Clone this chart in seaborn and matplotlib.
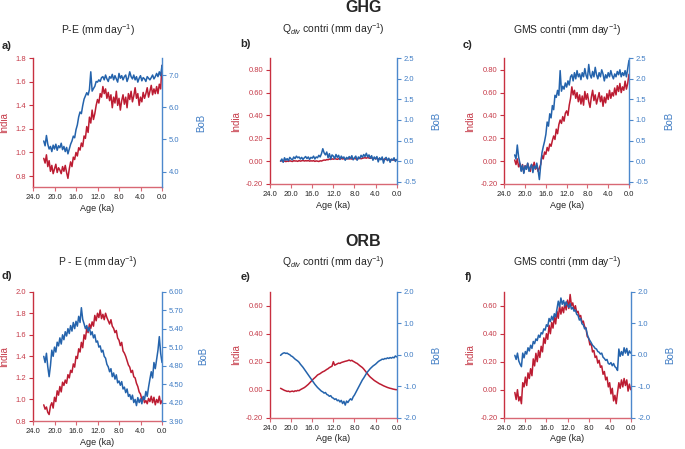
import matplotlib
matplotlib.use("Agg")
import matplotlib.pyplot as plt
import matplotlib.ticker as mticker
import numpy as np
import pandas as pd
import seaborn as sns

# age axis: 22 ka to present, every 250 yr
age = np.round(np.arange(22.0, -0.001, -0.25), 2)

# ---- GHG ----
ghg_pe_india = [0.95, 0.91, 0.98, 0.88, 0.93, 0.84, 0.89, 0.82, 0.86, 0.90, 0.83, 0.87,
                0.85, 0.82, 0.88, 0.84, 0.89, 0.83, 0.78, 0.86, 0.92, 0.88, 0.96, 0.94,
                1.00, 0.97, 1.04, 1.02, 1.08, 1.05, 1.14, 1.12, 1.22, 1.17, 1.30, 1.25,
                1.36, 1.28, 1.33, 1.40, 1.45, 1.42, 1.50, 1.47, 1.56, 1.50, 1.54, 1.46,
                1.51, 1.44, 1.49, 1.38, 1.47, 1.42, 1.52, 1.40, 1.46, 1.36, 1.44, 1.49,
                1.41, 1.47, 1.38, 1.50, 1.45, 1.52, 1.43, 1.48, 1.55, 1.46, 1.50, 1.40,
                1.47, 1.43, 1.51, 1.46, 1.50, 1.55, 1.47, 1.52, 1.57, 1.49, 1.54, 1.50,
                1.56, 1.50, 1.58, 1.54, 1.74]
ghg_pe_bob = [4.95, 4.80, 5.12, 4.85, 4.70, 4.78, 4.62, 4.82, 4.70, 4.85, 4.66, 4.80,
              4.74, 4.88, 4.68, 4.78, 4.62, 4.75, 4.55, 4.70, 4.85, 4.95, 5.10, 5.05,
              5.30, 5.45, 5.70, 5.85, 5.80, 6.05, 6.25, 6.35, 6.45, 6.38, 6.55, 7.10,
              6.50, 6.58, 6.65, 6.80, 6.78, 6.85, 6.80, 6.92, 6.95, 6.85, 7.00, 6.88,
              6.80, 6.95, 6.90, 7.02, 6.85, 6.98, 6.88, 6.78, 7.05, 6.90, 6.98, 6.85,
              6.95, 7.00, 6.80, 6.92, 7.10, 6.95, 6.88, 7.00, 6.85, 6.95, 6.78, 6.90,
              6.98, 6.82, 6.92, 6.88, 6.80, 6.95, 6.90, 6.85, 6.92, 7.00, 6.88, 6.95,
              7.05, 6.95, 7.10, 6.98, 7.30]
ghg_qdiv_india = [0.000, 0.004, -0.003, 0.002, -0.004, 0.001, -0.002, 0.003, 0.000, -0.003,
                  0.004, 0.001, 0.002, -0.002, 0.005, 0.000, 0.003, 0.006, 0.001, 0.004,
                  0.002, 0.005, 0.000, 0.003, 0.001, 0.004, -0.002, 0.002, 0.000, -0.003,
                  0.003, 0.001, 0.006, 0.010, 0.008, 0.014, 0.012, 0.018, 0.015, 0.020,
                  0.017, 0.022, 0.019, 0.016, 0.021, 0.018, 0.024, 0.019, 0.022, 0.017,
                  0.020, 0.025, 0.019, 0.023, 0.018, 0.021, 0.024, 0.020, 0.017, 0.022,
                  0.026, 0.021, 0.025, 0.028, 0.030, 0.026, 0.032, 0.027, 0.025, 0.029,
                  0.022, 0.026, 0.020, 0.024, 0.018, 0.021, 0.017, 0.020, 0.014, 0.018,
                  0.015, 0.011, 0.016, 0.012, 0.010, 0.014, 0.008, 0.011, 0.012]
ghg_qdiv_bob = [0.00, 0.05, -0.03, 0.08, 0.02, 0.06, 0.01, 0.09, 0.05, 0.03, 0.10, 0.06,
                0.12, 0.08, 0.10, 0.05, 0.09, 0.04, 0.08, 0.11, 0.06, 0.10, 0.04, 0.09,
                0.07, 0.12, 0.05, 0.10, 0.08, 0.14, 0.10, 0.18, 0.30, 0.20, 0.15, 0.22,
                0.08, 0.18, 0.05, 0.15, 0.12, 0.06, 0.16, 0.09, 0.14, 0.04, 0.12, 0.07,
                0.10, 0.02, 0.09, 0.05, 0.11, 0.06, 0.13, 0.03, 0.08, 0.12, 0.02, 0.10,
                0.06, 0.14, 0.09, 0.16, 0.11, 0.19, 0.10, 0.15, 0.07, 0.13, 0.02, 0.10,
                0.05, 0.11, -0.02, 0.08, 0.03, 0.10, -0.05, 0.06, 0.09, 0.01, 0.07, -0.03,
                0.05, 0.02, 0.08, -0.01, 0.04]
ghg_gms_india = [0.01, -0.03, 0.02, -0.05, -0.02, -0.08, -0.03, -0.10, -0.04, -0.07, -0.02, -0.06,
                 -0.09, -0.03, -0.06, -0.01, -0.07, -0.04, -0.09, -0.06, -0.03, 0.05, 0.02, 0.08,
                 0.06, 0.12, 0.09, 0.15, 0.13, 0.18, 0.22, 0.19, 0.28, 0.24, 0.32, 0.36,
                 0.33, 0.39, 0.35, 0.42, 0.44, 0.40, 0.49, 0.55, 0.65, 0.58, 0.62, 0.55,
                 0.60, 0.52, 0.58, 0.50, 0.57, 0.49, 0.61, 0.54, 0.59, 0.52, 0.47, 0.56,
                 0.62, 0.53, 0.58, 0.50, 0.55, 0.60, 0.52, 0.57, 0.48, 0.56, 0.51, 0.59,
                 0.54, 0.62, 0.55, 0.60, 0.57, 0.64, 0.58, 0.66, 0.61, 0.68, 0.60, 0.65,
                 0.62, 0.70, 0.63, 0.68, 0.76]
ghg_gms_bob = [0.15, 0.05, 0.39, 0.10, -0.05, -0.25, -0.10, -0.30, -0.12, -0.20, -0.05, -0.25,
               -0.15, -0.08, -0.28, -0.12, -0.18, -0.05, -0.22, -0.45, -0.10, 0.20, 0.35, 0.48,
               0.65, 0.95, 0.85, 1.15, 1.05, 1.35, 1.25, 1.60, 1.55, 1.72, 1.60, 2.20,
               1.70, 1.82, 1.75, 1.90, 1.80, 1.95, 1.85, 2.05, 2.10, 1.95, 2.15, 2.00,
               2.20, 2.05, 2.12, 1.98, 2.15, 2.05, 2.25, 2.08, 2.00, 2.35, 2.10, 2.02,
               2.18, 2.05, 2.28, 2.10, 2.00, 2.15, 2.05, 2.22, 2.12, 1.95, 2.10, 2.02,
               2.15, 2.05, 2.20, 2.08, 2.00, 2.12, 2.05, 2.18, 2.10, 2.22, 2.05, 2.15,
               2.08, 2.20, 2.05, 2.25, 2.45]

# ---- ORB ----
orb_pe_india = [0.95, 0.91, 0.93, 0.88, 0.86, 0.94, 0.97, 0.92, 1.02, 0.98, 1.08, 1.04,
                1.12, 1.07, 1.16, 1.13, 1.18, 1.15, 1.23, 1.20, 1.27, 1.25, 1.33, 1.30,
                1.40, 1.38, 1.47, 1.44, 1.53, 1.48, 1.60, 1.56, 1.66, 1.62, 1.70, 1.66,
                1.72, 1.68, 1.78, 1.73, 1.80, 1.76, 1.83, 1.75, 1.79, 1.74, 1.80, 1.76,
                1.73, 1.70, 1.74, 1.68, 1.66, 1.62, 1.64, 1.57, 1.55, 1.50, 1.53, 1.45,
                1.43, 1.40, 1.36, 1.32, 1.30, 1.25, 1.27, 1.21, 1.20, 1.15, 1.12, 1.07,
                1.05, 1.00, 1.02, 0.97, 0.99, 0.96, 1.01, 0.98, 1.03, 0.97, 1.02, 0.95,
                1.00, 0.97, 1.03, 0.96, 0.99]
orb_pe_bob = [4.95, 4.85, 5.00, 4.78, 4.62, 4.80, 5.05, 4.95, 5.10, 5.02, 5.18, 5.12,
              5.25, 5.15, 5.30, 5.22, 5.35, 5.28, 5.40, 5.32, 5.45, 5.36, 5.50, 5.40,
              5.52, 5.44, 5.60, 5.50, 5.74, 5.55, 5.48, 5.40, 5.45, 5.36, 5.42, 5.30,
              5.35, 5.25, 5.30, 5.18, 5.20, 5.10, 5.12, 5.02, 5.05, 4.95, 4.92, 4.82,
              4.78, 4.70, 4.75, 4.62, 4.68, 4.58, 4.65, 4.52, 4.55, 4.48, 4.54, 4.42,
              4.45, 4.36, 4.42, 4.30, 4.33, 4.25, 4.32, 4.20, 4.25, 4.15, 4.28, 4.20,
              4.26, 4.18, 4.30, 4.25, 4.38, 4.30, 4.45, 4.58, 4.70, 4.60, 4.85, 4.75,
              4.90, 5.05, 5.27, 5.00, 4.85]
orb_qdiv_india = [0.010, 0.005, 0.000, -0.005, -0.008, -0.012, -0.010, -0.015, -0.012, -0.010,
                  -0.014, -0.008, -0.010, -0.005, -0.007, 0.000, 0.005, 0.010, 0.015, 0.022,
                  0.030, 0.038, 0.048, 0.058, 0.068, 0.078, 0.086, 0.095, 0.105, 0.110,
                  0.115, 0.122, 0.128, 0.132, 0.138, 0.145, 0.150, 0.158, 0.163, 0.168,
                  0.200, 0.175, 0.180, 0.185, 0.190, 0.188, 0.194, 0.197, 0.200, 0.203,
                  0.205, 0.208, 0.212, 0.206, 0.210, 0.203, 0.198, 0.192, 0.188, 0.180,
                  0.172, 0.165, 0.158, 0.148, 0.136, 0.124, 0.112, 0.100, 0.090, 0.082,
                  0.074, 0.066, 0.060, 0.054, 0.048, 0.042, 0.038, 0.033, 0.028, 0.024,
                  0.020, 0.016, 0.013, 0.010, 0.008, 0.005, 0.003, 0.001, 0.000]
orb_qdiv_bob = [-0.02, 0.02, 0.05, 0.06, 0.04, 0.05, 0.02, 0.00, -0.04, -0.06, -0.10, -0.14,
                -0.17, -0.20, -0.24, -0.30, -0.35, -0.40, -0.46, -0.52, -0.58, -0.64, -0.70, -0.76,
                -0.82, -0.88, -0.94, -0.99, -1.04, -1.08, -1.12, -1.16, -1.18, -1.22, -1.20, -1.26,
                -1.28, -1.32, -1.30, -1.36, -1.38, -1.42, -1.40, -1.46, -1.44, -1.50, -1.45, -1.55,
                -1.48, -1.60, -1.47, -1.52, -1.45, -1.40, -1.44, -1.34, -1.28, -1.20, -1.12, -1.04,
                -0.96, -0.88, -0.80, -0.74, -0.67, -0.60, -0.54, -0.49, -0.44, -0.40, -0.36, -0.33,
                -0.30, -0.26, -0.22, -0.19, -0.17, -0.14, -0.15, -0.12, -0.13, -0.10, -0.12, -0.09,
                -0.11, -0.08, -0.10, -0.04, -0.07]
orb_gms_india = [-0.02, -0.07, 0.00, -0.08, -0.05, -0.10, 0.05, 0.02, 0.09, 0.03, 0.12, 0.08,
                 0.15, 0.10, 0.22, 0.17, 0.26, 0.20, 0.28, 0.23, 0.31, 0.27, 0.37, 0.33,
                 0.40, 0.36, 0.46, 0.40, 0.48, 0.44, 0.52, 0.47, 0.56, 0.51, 0.60, 0.54,
                 0.59, 0.55, 0.62, 0.57, 0.64, 0.58, 0.68, 0.60, 0.62, 0.57, 0.60, 0.55,
                 0.56, 0.52, 0.53, 0.48, 0.49, 0.45, 0.44, 0.38, 0.37, 0.32, 0.33, 0.27,
                 0.28, 0.23, 0.24, 0.19, 0.21, 0.16, 0.17, 0.11, 0.13, 0.07, 0.09, 0.02,
                 0.05, -0.03, 0.01, -0.08, -0.04, -0.10, -0.02, 0.05, 0.01, 0.07, 0.02, 0.08,
                 0.03, 0.07, -0.01, 0.04, 0.00]
orb_gms_bob = [-0.02, -0.15, 0.05, -0.20, -0.30, -0.38, 0.05, -0.10, 0.10, 0.02, 0.22, 0.12,
               0.30, 0.20, 0.42, 0.35, 0.50, 0.45, 0.62, 0.55, 0.70, 0.66, 0.82, 0.78,
               0.95, 0.90, 1.15, 1.05, 1.22, 1.10, 1.30, 1.20, 1.45, 1.70, 1.52, 1.80,
               1.60, 1.72, 1.55, 1.68, 1.58, 1.50, 1.62, 1.45, 1.50, 1.38, 1.42, 1.28,
               1.25, 1.10, 1.15, 0.98, 0.95, 0.82, 0.85, 0.65, 0.52, 0.45, 0.38, 0.30,
               0.26, 0.20, 0.18, 0.10, 0.08, 0.02, 0.05, -0.08, -0.12, -0.18, -0.15, -0.28,
               -0.30, -0.25, -0.35, -0.28, -0.38, -0.42, -0.50, 0.18, -0.05, 0.10, -0.02, 0.22,
               0.05, 0.20, -0.02, 0.12, 0.05]

age_ticks = [24, 20, 16, 12, 8, 4, 0]

sns.set_style("ticks")
plt.rcParams['font.family'] = ['Liberation Sans', 'DejaVu Sans']
plt.rcParams['mathtext.fontset'] = 'custom'
plt.rcParams['mathtext.rm'] = 'Liberation Sans'
plt.rcParams['mathtext.it'] = 'Liberation Sans:italic'

W, H = 685, 449
fig = plt.figure(figsize=(6.85, 4.49), dpi=100)

RED = '#BC1C32'
BLUE = '#2463AC'
RED_SP = '#C83040'
BOT_SP = '#D86874'
BLUE_SP = '#4C88CC'
RED_TXT = '#C63A48'
BLUE_TXT = '#3F7CC4'


def fx(px):
    return px / W


def fy(py):
    return 1 - py / H


def panel(box, india, bob, lylim, lticks, lfmt, rylim, rticks, rfmt,
          title, tpos, letter, lpos, india_px, bob_px):
    x0, y0, x1, y1 = box
    ax = fig.add_axes([fx(x0), fy(y1), (x1 - x0) / W, (y1 - y0) / H])
    df = pd.DataFrame({'age': age, 'India': india, 'BoB': bob})
    sns.lineplot(data=df, x='age', y='India', ax=ax, color=RED, linewidth=1.1)
    ax2 = ax.twinx()
    sns.lineplot(data=df, x='age', y='BoB', ax=ax2, color=BLUE, linewidth=1.1)

    ax.set_xlim(24, 0)
    ax.set_xticks(age_ticks)
    ax.xaxis.set_major_formatter(mticker.FormatStrFormatter('%.1f'))
    ax.set_ylim(*lylim)
    ax.set_yticks(lticks)
    ax.yaxis.set_major_formatter(mticker.FormatStrFormatter(lfmt))
    ax2.set_ylim(*rylim)
    ax2.set_yticks(rticks)
    ax2.yaxis.set_major_formatter(mticker.FormatStrFormatter(rfmt))

    for s in ['top', 'right']:
        ax.spines[s].set_visible(False)
    for s in ['top', 'left', 'bottom']:
        ax2.spines[s].set_visible(False)
    ax.spines['left'].set_color(RED_SP)
    ax.spines['bottom'].set_color(BOT_SP)
    ax2.spines['right'].set_color(BLUE_SP)
    for sp in [ax.spines['left'], ax.spines['bottom'], ax2.spines['right']]:
        sp.set_linewidth(1.0)

    ax.tick_params(axis='y', colors=RED_SP, labelcolor=RED_TXT, labelsize=5.5,
                   length=3, width=0.8, pad=2)
    ax.tick_params(axis='x', colors=BOT_SP, labelcolor='#222222', labelsize=5.5,
                   length=3, width=0.8, pad=2)
    ax2.tick_params(axis='y', colors=BLUE_SP, labelcolor=BLUE_TXT, labelsize=5.5,
                    length=3, width=0.8, pad=2)

    ax.set_xlabel('Age (ka)', fontsize=6.5, color='#222222', labelpad=2)
    ax.set_ylabel('India', fontsize=7, color=RED_TXT)
    ax2.set_ylabel('BoB', fontsize=7, color=BLUE_TXT)
    ax.yaxis.set_label_coords((india_px - x0) / (x1 - x0), 0.5)
    ax2.yaxis.set_label_coords((bob_px - x0) / (x1 - x0), 0.5)

    fig.text(fx(tpos[0]), fy(tpos[1]), title, fontsize=7.5, ha='center', va='center')
    fig.text(fx(lpos[0]), fy(lpos[1]), letter, fontsize=8, fontweight='bold',
             ha='left', va='center')


# top row: GHG
panel((33, 58.3, 162, 187.3), ghg_pe_india, ghg_pe_bob,
      (0.704, 1.80), [0.8, 1.0, 1.2, 1.4, 1.6, 1.8], '%.1f',
      (3.51, 7.52), [4.0, 5.0, 6.0, 7.0], '%.1f',
      'P-E (mm day$^{-1}$)', (98, 30), 'a)', (2, 46), 9, 196)
panel((270, 58.3, 396.7, 184), ghg_qdiv_india, ghg_qdiv_bob,
      (-0.20, 0.90), [-0.2, 0.0, 0.2, 0.4, 0.6, 0.8], '%.2f',
      (-0.558, 2.5), [-0.5, 0.0, 0.5, 1.0, 1.5, 2.0, 2.5], '%.1f',
      'Q$_{div}$ contri (mm day$^{-1}$)', (333.5, 29), 'b)', (240, 44), 241, 431)
panel((504.3, 58.3, 629, 184), ghg_gms_india, ghg_gms_bob,
      (-0.20, 0.90), [-0.2, 0.0, 0.2, 0.4, 0.6, 0.8], '%.2f',
      (-0.558, 2.5), [-0.5, 0.0, 0.5, 1.0, 1.5, 2.0, 2.5], '%.1f',
      'GMS contri (mm day$^{-1}$)', (567, 30), 'c)', (463, 45), 475, 664)

# bottom row: ORB
panel((33, 291.7, 162, 421), orb_pe_india, orb_pe_bob,
      (0.8, 2.0), [0.8, 1.0, 1.2, 1.4, 1.6, 1.8, 2.0], '%.1f',
      (3.9, 6.0), [3.9, 4.2, 4.5, 4.8, 5.1, 5.4, 5.7, 6.0], '%.2f',
      'P - E (mm day$^{-1}$)', (97.5, 262), 'd)', (2, 276), 9, 198)
panel((270, 291.7, 396.7, 417.7), orb_qdiv_india, orb_qdiv_bob,
      (-0.20, 0.70), [-0.2, 0.0, 0.2, 0.4, 0.6], '%.2f',
      (-2.0, 2.0), [-2.0, -1.0, 0.0, 1.0, 2.0], '%.1f',
      'Q$_{div}$ contri (mm day$^{-1}$)', (333.5, 262), 'e)', (241, 277.5), 241, 431)
panel((504.3, 291.7, 630.7, 417.7), orb_gms_india, orb_gms_bob,
      (-0.20, 0.70), [-0.2, 0.0, 0.2, 0.4, 0.6], '%.2f',
      (-2.0, 2.0), [-2.0, -1.0, 0.0, 1.0, 2.0], '%.1f',
      'GMS contri (mm day$^{-1}$)', (567, 262), 'f)', (465, 277.5), 475, 665)

fig.text(fx(363.5), fy(7), 'GHG', fontsize=11.5, fontweight='bold', ha='center', va='center')
fig.text(fx(363.5), fy(241), 'ORB', fontsize=11.5, fontweight='bold', ha='center', va='center')

fig.savefig('out.png', dpi=100)
